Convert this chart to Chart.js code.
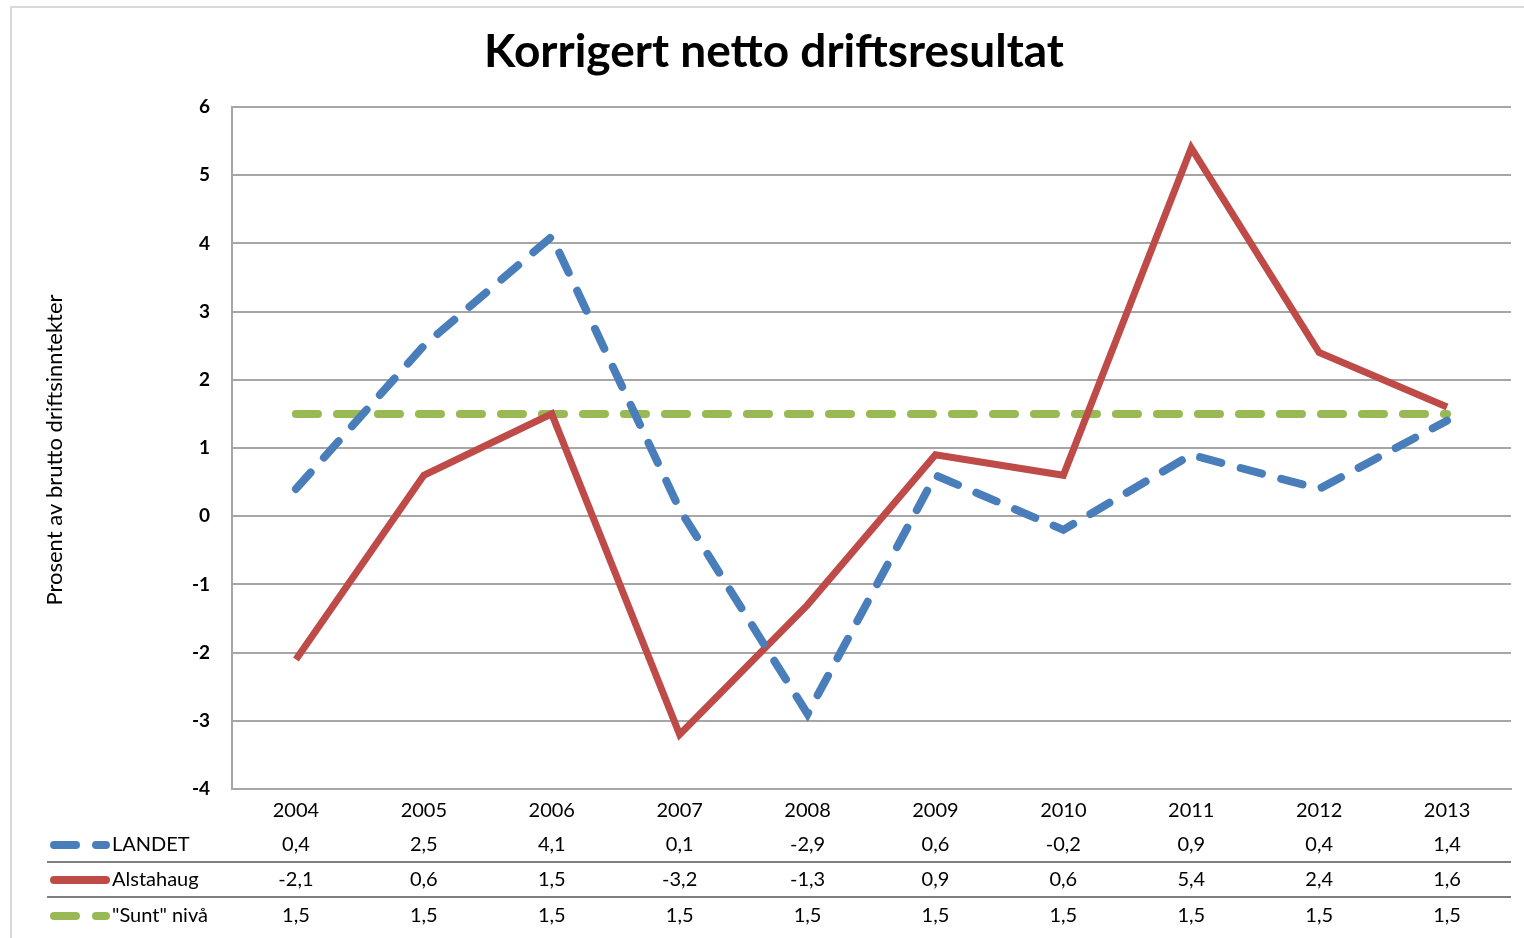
<!DOCTYPE html>
<html>
<head>
<meta charset="utf-8">
<script src="https://cdn.jsdelivr.net/npm/chart.js@4"></script>
<style>
  html, body { margin: 0; padding: 0; background: #fff; }
  #wrap { width: 1524px; height: 938px; position: relative; }
</style>
</head>
<body>
<div id="wrap"><canvas id="chart" width="1524" height="938"></canvas></div>
<script>
// --- data ---
const years = ['2004', '2005', '2006', '2007', '2008', '2009', '2010', '2011', '2012', '2013'];
const landet = [0.4, 2.5, 4.1, 0.1, -2.9, 0.6, -0.2, 0.9, 0.4, 1.4];
const alstahaug = [-2.1, 0.6, 1.5, -3.2, -1.3, 0.9, 0.6, 5.4, 2.4, 1.6];
const sunt = [1.5, 1.5, 1.5, 1.5, 1.5, 1.5, 1.5, 1.5, 1.5, 1.5];
const yTicks = [6, 5, 4, 3, 2, 1, 0, -1, -2, -3, -4];

const BLUE = '#4a7ebb', RED = '#be4b48', GREEN = '#98b954';
const FONT = 'Lato, "Open Sans", sans-serif';
const fmt = v => String(v).replace('.', ',');

// title, y-axis title, data table drawn on canvas
const extras = {
    id: 'extras',
    afterDraw(chart) {
        const ctx = chart.ctx, x = chart.scales.x, area = chart.chartArea;
        ctx.save();
        // outer frame
        ctx.strokeStyle = '#d9d9d9'; ctx.lineWidth = 2;
        ctx.strokeRect(11, 7, 1530, 960);

        // title
        ctx.fillStyle = '#000';
        ctx.font = 'bold 46px ' + FONT;
        ctx.textAlign = 'center'; ctx.textBaseline = 'middle';
        ctx.fillText('Korrigert netto driftsresultat', 774, 52);

        // y axis title
        ctx.save();
        ctx.translate(55, 450);
        ctx.rotate(-Math.PI / 2);
        ctx.font = '22px ' + FONT;
        ctx.fillText('Prosent av brutto driftsinntekter', 0, 0);
        ctx.restore();

        // data table
        const rows = [
            { label: 'LANDET', data: landet, color: BLUE, dash: true, y: 845 },
            { label: 'Alstahaug', data: alstahaug, color: RED, dash: false, y: 880 },
            { label: '"Sunt" nivå', data: sunt, color: GREEN, dash: true, y: 916 }
        ];
        ctx.font = '20px ' + FONT;
        rows.forEach(r => {
            ctx.fillStyle = '#000';
            ctx.textAlign = 'center';
            r.data.forEach((v, i) => ctx.fillText(fmt(v), x.getPixelForValue(i), r.y));
            ctx.textAlign = 'left';
            ctx.fillText(r.label, 112, r.y);
            // legend key
            ctx.strokeStyle = r.color; ctx.lineWidth = 8; ctx.lineCap = 'round';
            ctx.beginPath();
            if (r.dash) {
                ctx.moveTo(54, r.y); ctx.lineTo(76, r.y);
                ctx.moveTo(96, r.y); ctx.lineTo(106, r.y);
            } else {
                ctx.moveTo(54, r.y); ctx.lineTo(106, r.y);
            }
            ctx.stroke();
        });
        ctx.lineCap = 'butt';
        ctx.strokeStyle = '#7f7f7f'; ctx.lineWidth = 2;
        [862, 897].forEach(yy => {
            ctx.beginPath(); ctx.moveTo(47, yy); ctx.lineTo(area.right, yy); ctx.stroke();
        });
        ctx.restore();
    }
};

new Chart(document.getElementById('chart'), {
    type: 'line',
    data: {
        labels: years,
        datasets: [
            { label: 'LANDET', data: landet, borderColor: BLUE, borderWidth: 8, borderDash: [22, 20], borderCapStyle: 'round' },
            { label: 'Alstahaug', data: alstahaug, borderColor: RED, borderWidth: 7 },
            { label: '"Sunt" nivå', data: sunt, borderColor: GREEN, borderWidth: 8, borderDash: [22, 19], borderCapStyle: 'round' }
        ]
    },
    options: {
        responsive: false,
        animation: false,
        devicePixelRatio: 1,
        layout: { padding: { top: 107, right: 13, left: 0, bottom: 0 } },
        elements: { point: { radius: 0 }, line: { tension: 0, fill: false, borderJoinStyle: 'miter' } },
        plugins: { legend: { display: false }, title: { display: false }, tooltip: { enabled: false } },
        scales: {
            x: {
                offset: true,
                grid: { display: false },
                border: { display: true, color: '#a6a6a6', width: 2 },
                ticks: { color: '#000', font: { family: FONT, size: 20 }, padding: 2, maxRotation: 0 },
                afterFit(s) { s.height = 149; }
            },
            y: {
                min: -4, max: 6,
                afterBuildTicks(s) { s.ticks = yTicks.map(v => ({ value: v })); },
                grid: { color: '#a6a6a6', lineWidth: 2, drawTicks: false },
                border: { display: true, color: '#a6a6a6', width: 2 },
                ticks: { color: '#000', font: { family: FONT, size: 19, weight: 'bold' }, padding: 22 },
                afterFit(s) { s.width = 232; }
            }
        }
    },
    plugins: [extras]
});
</script>
</body>
</html>
